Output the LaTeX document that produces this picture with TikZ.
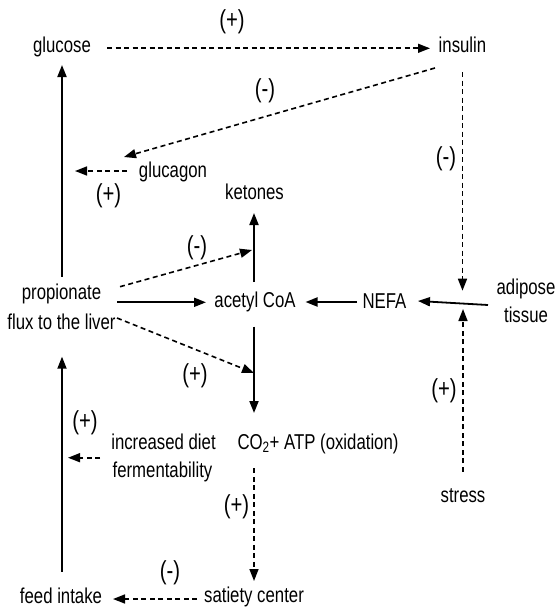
\documentclass[tikz,border=0pt]{standalone}
\usepackage{fontspec}
\setmainfont[FakeStretch=0.78]{Liberation Sans}
\usetikzlibrary{arrows.meta}
\begin{document}
\begin{tikzpicture}[x=1pt,y=-1pt,
  txt/.style={inner sep=0pt, font=\fontsize{21.5}{28}\selectfont, text height=0.73em, text depth=0.21em},
  sign/.style={inner sep=0pt, font=\fontsize{26}{30}\selectfont, text height=0.73em, text depth=0.21em},
  tip/.style={-{Triangle[length=12pt,width=9pt]}},
  solidarrow/.style={tip, line width=1.8pt},
  dasharrow/.style={tip, line width=1.6pt, dash pattern=on 5pt off 3.5pt}]
\useasboundingbox (0,0) rectangle (557,610);

% text nodes
\node[txt] (glucose)  at (62,50)      {glucose};
\node[txt] (insulin)  at (462.5,50)   {insulin};
\node[txt] (glucagon) at (173,175)    {glucagon};
\node[txt] (ketones)  at (254.5,197)  {ketones};
\node[txt] (prop)     at (61.5,296.7) {propionate};
\node[txt] (flux)     at (61.5,326.7) {flux to the liver};
\node[txt] (acetyl)   at (255,305)    {acetyl CoA};
\node[txt] (nefa)     at (384.5,306)  {NEFA};
\node[txt] (adipose)  at (526,291.7)  {adipose};
\node[txt] (tissue)   at (526,320)    {tissue};
\node[txt] (incr)     at (163.5,446.7){increased diet};
\node[txt] (ferm)     at (162.5,475)  {fermentability};
\node[txt] (co2)      at (318,446.7)  {CO\textsubscript{2}+ ATP (oxidation)};
\node[txt] (stress)   at (463,500)    {stress};
\node[txt] (feed)     at (61,601)     {feed intake};
\node[txt] (satiety)  at (254,600)    {satiety center};

% sign labels
\node[sign] (s1)  at (232,25.5)  {(+)};
\node[sign] (s2)  at (265,95)    {(-)};
\node[sign] (s3)  at (446,163)   {(-)};
\node[sign] (s4)  at (108.5,200) {(+)};
\node[sign] (s5)  at (197,252)   {(-)};
\node[sign] (s6)  at (195,380)   {(+)};
\node[sign] (s7)  at (444,395)   {(+)};
\node[sign] (s8)  at (85,427)    {(+)};
\node[sign] (s9)  at (236.5,511) {(+)};
\node[sign] (s10) at (170,577)   {(-)};

% connector end points
\coordinate (gluE)   at (107,48.3);
\coordinate (insW)   at (430,48.3);
\coordinate (insSW)  at (435,68);
\coordinate (glgNE)  at (124,157);
\coordinate (insS)   at (462.5,72);
\coordinate (adN)    at (462.5,290.7);
\coordinate (glgW)   at (127,171);
\coordinate (lineG)  at (75,171);
\coordinate (propN)  at (62,276.7);
\coordinate (gluS)   at (62,65);
\coordinate (acN)    at (254,282);
\coordinate (ketS)   at (254,213);
\coordinate (propE)  at (117,302.3);
\coordinate (acW)    at (206,302.3);
\coordinate (nefaW)  at (357,302);
\coordinate (acE)    at (305.5,302);
\coordinate (adW)    at (488,305);
\coordinate (nefaE)  at (418,301);
\coordinate (propNE) at (120,286.7);
\coordinate (ketL)   at (252,250);
\coordinate (propSE) at (117,318);
\coordinate (coL)    at (254,373);
\coordinate (acS)    at (254,326.7);
\coordinate (coN)    at (254,413);
\coordinate (stN)    at (463,471.7);
\coordinate (adS)    at (463,309);
\coordinate (incW)   at (100,457.7);
\coordinate (lineF)  at (68,457.7);
\coordinate (feedN)  at (62,571.7);
\coordinate (fluxS)  at (62,356.7);
\coordinate (coS)    at (254,468.3);
\coordinate (satN)   at (254,581);
\coordinate (satW)   at (197,599);
\coordinate (feedE)  at (113,599);

% connectors
\draw[dasharrow]  (gluE) -- (insW);
\draw[dasharrow]  (insSW) -- (glgNE);
\draw[dasharrow]  (insS) -- (adN);
\draw[dasharrow]  (glgW) -- (lineG);
\draw[solidarrow] (propN) -- (gluS);
\draw[solidarrow] (acN) -- (ketS);
\draw[solidarrow] (propE) -- (acW);
\draw[solidarrow] (nefaW) -- (acE);
\draw[solidarrow] (adW) -- (nefaE);
\draw[dasharrow]  (propNE) -- (ketL);
\draw[dasharrow]  (propSE) -- (coL);
\draw[solidarrow] (acS) -- (coN);
\draw[dasharrow]  (stN) -- (adS);
\draw[dasharrow]  (incW) -- (lineF);
\draw[solidarrow] (feedN) -- (fluxS);
\draw[dasharrow]  (coS) -- (satN);
\draw[dasharrow]  (satW) -- (feedE);
\end{tikzpicture}
\end{document}
